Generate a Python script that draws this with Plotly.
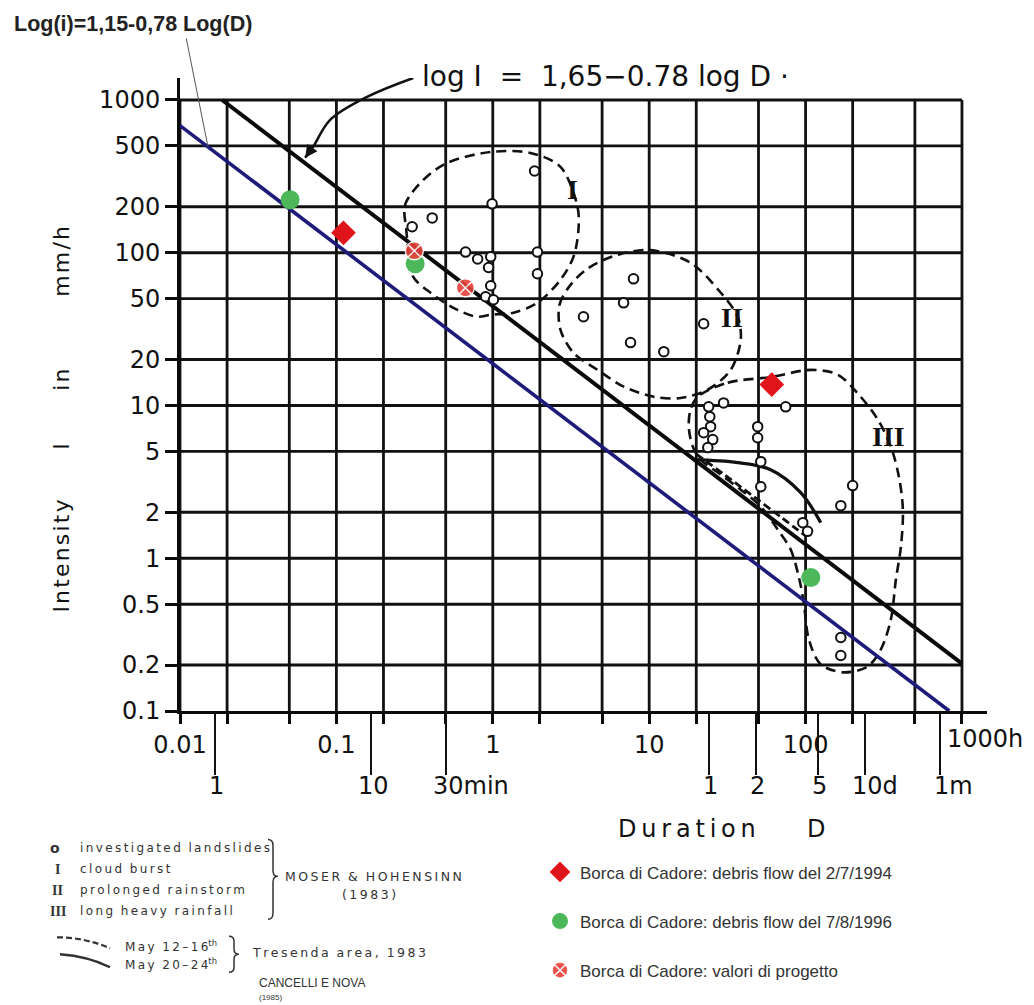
import numpy as np
import plotly.graph_objects as go

# ---------------- data (hours, mm/h) ----------------
x_grid = [0.01, 0.02, 0.05, 0.1, 0.2, 0.5, 1, 2, 5, 10, 20, 50, 100, 200, 500, 1000]
x_tick_text = ['0.01', '', '', '0.1', '', '', '1', '', '', '10', '', '', '100', '', '', '']
y_grid = [0.1, 0.2, 0.5, 1, 2, 5, 10, 20, 50, 100, 200, 500, 1000]
y_tick_text = ['0.1', '0.2', '0.5', '1', '2', '5', '10', '20', '50', '100', '200', '500', '1000']

# secondary duration scale (minutes / days / month) in hours
md_ticks = [1 / 60, 10 / 60, 0.5, 24, 48, 120, 240, 720]
md_labels = ['1', '10', '30min', '1', '2', '5', '10d', '1m']
md_lead = [1, 2, 2, 1, 1, 1, 2, 1]          # digits of the number centred on the tick

# threshold lines
moser_D = [0.0186, 1000]
moser_I = [1000, 0.204]
borca_D = [0.01, 830]
borca_I = [680, 0.1]

# investigated landslides (Moser & Hohensinn)
land_D = [1.85, 0.99, 0.41, 0.305, 0.67, 0.80, 0.97, 0.94, 1.93, 1.93, 0.97, 0.90, 1.01,
          3.80, 7.94, 6.86, 7.60, 12.4, 22.3,
          29.9, 74.6, 24.0, 24.4, 24.7, 22.3, 25.5, 23.7,
          49.4, 49.4, 51.7, 51.7,
          200, 168, 96, 103, 168, 168]
land_I = [343, 209, 169, 148, 101, 91, 94, 80, 101, 72.8, 60.8, 51.5, 49.2,
          38.1, 67.5, 47, 25.8, 22.5, 34.3,
          10.4, 9.8, 9.8, 8.45, 7.27, 6.64, 5.98, 5.30,
          7.27, 6.15, 4.29, 2.94,
          2.99, 2.21, 1.71, 1.50, 0.303, 0.231]

# envelopes
envI_D = [0.275, 0.36, 0.51, 0.97, 1.74, 2.71, 3.48, 3.53, 3.28, 2.71, 1.93, 1.36, 0.97, 0.80,
          0.59, 0.40, 0.31, 0.29, 0.28, 0.275]
envI_I = [206, 300, 387, 457, 450, 365, 200, 141, 94, 66.5, 47, 40.5, 39.3, 38.1,
          42.4, 54.7, 69.5, 100, 140, 206]
envII_D = [2.71, 2.67, 3.14, 4.10, 6.28, 10.2, 18.4, 28.7, 36.8, 38.5, 33.2, 23.7, 15.9, 10.7,
           6.86, 4.68, 3.28, 2.71]
envII_I = [31.3, 45.6, 61.6, 79.6, 96.9, 104, 85.9, 54.7, 38.1, 26.9, 17.1, 12.7, 11.2, 11.4,
           13.3, 17.1, 22.1, 31.3]
envIII_D = [20.4, 31.8, 60.8, 108, 161, 225, 290, 351, 395, 419, 407, 378, 351, 303, 250, 176,
            125, 105, 97.3, 90.4, 80.3, 66.4, 51.7, 38.5, 28.7, 21.3, 19.0, 17.9, 18.4, 20.4]
envIII_I = [11.4, 14.1, 15.4, 17.1, 15.9, 11.4, 8.07, 5.38, 3.42, 2.08, 1.19, 0.726, 0.397,
            0.253, 0.196, 0.179, 0.202, 0.294, 0.513, 0.759, 1.14, 1.54, 2.18, 2.81, 3.53,
            4.42, 5.38, 7.27, 9.39, 11.4]

# Tresenda area 1983 (Cancelli e Nova)
tres1_D = [20, 30, 45, 70, 100]
tres1_I = [4.8, 3.55, 2.6, 1.85, 1.4]
tres2_D = [19.2, 36.8, 59.8, 93.1, 125]
tres2_I = [4.42, 4.23, 3.80, 2.69, 1.71]

# Borca di Cadore events
deb94_D = [0.111, 60.8]
deb94_I = [135, 13.7]
deb96_D = [0.0506, 0.319, 108]
deb96_I = [222, 84.6, 0.748]
prog_D = [0.315, 0.668]
prog_I = [103, 58.9]

# label arrow (curved leader of the Moser formula)
arrow_D = [0.310, 0.157, 0.0912, 0.0710, 0.0631]
arrow_I = [1393, 1047, 740, 493, 418]

# roman numeral labels of the envelopes
roman_text = ['I', 'II', 'III']
roman_D = [3.24, 33.7, 341]
roman_I = [258, 37.5, 6.25]

# ---------------- layout geometry (reference pixels) ----------------
OFF = 8                       # page body margin of the html page
W, H = 1034 - OFF, 1005 - OFF
L, T = 180, 78                # plot-area top-left in the screenshot
PW, PH = 807, 633.5


def px(x):
    return (x - L) / PW


def py(y):
    return (T + PH - y) / PH


FONT = 'DejaVu Sans'
SERIF = 'Liberation Serif'
THIN = '\u2009'
NB = '\u00a0'


def spaced(text, gap=THIN, wordgap=NB * 2):
    return wordgap.join(gap.join(list(w)) for w in text.split(' '))


fig = go.Figure()

# grid
gx, gy = [], []
for v in x_grid:
    gx += [v, v, None]
    gy += [y_grid[0], y_grid[-1], None]
for v in y_grid[1:]:
    gx += [x_grid[0], x_grid[-1], None]
    gy += [v, v, None]
fig.add_trace(go.Scatter(x=gx, y=gy, mode='lines', line=dict(color='#111', width=2.8),
                         hoverinfo='skip', showlegend=False))

dash_style = dict(color='#111', width=2.6, dash='10px,6px', shape='spline', smoothing=0.9)
for ed, ei in [(envI_D, envI_I), (envII_D, envII_I), (envIII_D, envIII_I)]:
    fig.add_trace(go.Scatter(x=ed, y=ei, mode='lines', line=dash_style,
                             hoverinfo='skip', showlegend=False))

fig.add_trace(go.Scatter(x=tres1_D, y=tres1_I, mode='lines',
                         line=dict(color='#111', width=2.8, dash='8px,4px', shape='spline'),
                         hoverinfo='skip', showlegend=False))
fig.add_trace(go.Scatter(x=tres2_D, y=tres2_I, mode='lines',
                         line=dict(color='#111', width=3.2, shape='spline'),
                         hoverinfo='skip', showlegend=False))

# threshold lines
fig.add_trace(go.Scatter(x=moser_D, y=moser_I, mode='lines', line=dict(color='#0a0a0a', width=4),
                         hoverinfo='skip', showlegend=False))
fig.add_trace(go.Scatter(x=borca_D, y=borca_I, mode='lines', line=dict(color='#1e1b7a', width=3.6),
                         hoverinfo='skip', showlegend=False))

# curved leader
fig.add_trace(go.Scatter(x=arrow_D, y=arrow_I, mode='lines',
                         line=dict(color='#111', width=2.5, shape='spline'),
                         hoverinfo='skip', showlegend=False))

# investigated landslides
fig.add_trace(go.Scatter(x=land_D, y=land_I, mode='markers',
                         marker=dict(symbol='circle', size=9.5, color='white',
                                     line=dict(color='#111', width=2)),
                         hoverinfo='skip', showlegend=False))

# Borca di Cadore points
fig.add_trace(go.Scatter(x=deb94_D, y=deb94_I, mode='markers',
                         name='Borca di Cadore: debris flow del 2/7/1994', legendgroup='a',
                         marker=dict(symbol='diamond', size=19, color='#e0141b')))
fig.add_trace(go.Scatter(x=deb96_D, y=deb96_I, mode='markers',
                         name='Borca di Cadore: debris flow del 7/8/1996', legendgroup='b',
                         marker=dict(symbol='circle', size=19, color='#4cb85a')))
fig.add_trace(go.Scatter(x=prog_D, y=prog_I, mode='markers',
                         name='Borca di Cadore: valori di progetto', legendgroup='c',
                         marker=dict(symbol='circle-x', size=18, color='#e8403a',
                                     line=dict(color='white', width=1.4), opacity=0.9)))

# empty trace to carry the secondary duration axis
fig.add_trace(go.Scatter(x=[], y=[], xaxis='x2', yaxis='y', showlegend=False, hoverinfo='skip'))

ann = []
# in-plot roman numerals
for t, d, i in zip(roman_text, roman_D, roman_I):
    ann.append(dict(x=np.log10(d), y=np.log10(i), xref='x', yref='y', text=t, showarrow=False,
                    xanchor='center', yanchor='middle',
                    font=dict(family=SERIF, size=28, color='#111', weight='bold')))

# arrowhead of the curved leader
ann.append(dict(x=np.log10(arrow_D[-1]), y=np.log10(arrow_I[-1]), xref='x', yref='y', text='',
                showarrow=True, arrowhead=2, arrowsize=1, arrowwidth=2.5, arrowcolor='#111',
                ax=7, ay=-10, standoff=0))
# thin leader of the blue-line formula
ann.append(dict(x=np.log10(0.0151), y=np.log10(493), xref='x', yref='y', text='',
                showarrow=True, arrowhead=0, arrowwidth=1, arrowcolor='#555',
                ax=-22, ay=-110, standoff=0))

# formulas
ann.append(dict(x=px(12), y=py(24), xref='paper', yref='paper', xanchor='left', yanchor='middle',
                text='Log(i)=1,15-0,78 Log(D)', showarrow=False,
                font=dict(family='Liberation Sans', size=21.5, color='#222', weight='bold')))
ann.append(dict(x=px(420), y=py(76), xref='paper', yref='paper', xanchor='left', yanchor='middle',
                text='log I  =  1,65\u22120.78 log D \u00b7', showarrow=False,
                font=dict(family=FONT, size=28, color='#111')))

# 1000 h label
ann.append(dict(x=px(945), y=py(740), xref='paper', yref='paper', xanchor='left', yanchor='middle',
                text='1000h', showarrow=False, font=dict(family=FONT, size=24, color='#111')))

# secondary duration labels
for v, t, n in zip(md_ticks, md_labels, md_lead):
    ann.append(dict(x=np.log10(v), y=py(787), xref='x', yref='paper', xanchor='left',
                    yanchor='middle', xshift=-7.6 * n, text=t, showarrow=False,
                    font=dict(family=FONT, size=24, color='#111')))

# axis titles
for word, yc in [('Intensity', 557), ('I', 447), ('in', 380), ('mm/h', 262)]:
    ann.append(dict(x=px(62), y=py(yc), xref='paper', yref='paper', text='\u200a'.join(word),
                    xanchor='center', yanchor='middle', textangle=-90, showarrow=False,
                    font=dict(family=FONT, size=22, color='#111')))
ann.append(dict(x=px(686.5), y=py(830), xref='paper', yref='paper', text=THIN.join('Duration'),
                xanchor='center', yanchor='middle', showarrow=False,
                font=dict(family=FONT, size=24, color='#111')))
ann.append(dict(x=px(816), y=py(830), xref='paper', yref='paper', text='D',
                xanchor='center', yanchor='middle', showarrow=False,
                font=dict(family=FONT, size=24, color='#111')))

# bottom-left legend (text block)
small = dict(family=FONT, size=12, color='#333')
rows = [('o', 55, 849, 'investigated landslides', FONT),
        ('I', 57, 870, 'cloud burst', SERIF),
        ('II', 57, 891, 'prolonged rainstorm', SERIF),
        ('III', 58, 912, 'long heavy rainfall', SERIF)]
for sym, sx, yy, txt, fam in rows:
    ann.append(dict(x=px(sx), y=py(yy), xref='paper', yref='paper', text=sym, showarrow=False,
                    xanchor='center', yanchor='middle',
                    font=dict(family=fam, size=14, color='#333', weight='bold')))
    ann.append(dict(x=px(78), y=py(yy), xref='paper', yref='paper', xanchor='left',
                    yanchor='middle', text=spaced(txt), showarrow=False, font=small))
ann.append(dict(x=px(283), y=py(877), xref='paper', yref='paper', xanchor='left', yanchor='middle',
                text=spaced('MOSER & HOHENSINN'), showarrow=False,
                font=dict(family=FONT, size=12.5, color='#333')))
ann.append(dict(x=px(340), y=py(895), xref='paper', yref='paper', xanchor='left', yanchor='middle',
                text=spaced('(1983)'), showarrow=False, font=dict(family=FONT, size=12.5, color='#333')))
ann.append(dict(x=px(123), y=py(947), xref='paper', yref='paper', xanchor='left', yanchor='middle',
                text=spaced('May 12–16') + '<sup>th</sup>', showarrow=False, font=small))
ann.append(dict(x=px(123), y=py(965), xref='paper', yref='paper', xanchor='left', yanchor='middle',
                text=spaced('May 20–24') + '<sup>th</sup>', showarrow=False, font=small))
ann.append(dict(x=px(250), y=py(953), xref='paper', yref='paper', xanchor='left', yanchor='middle',
                text=spaced('Tresenda area, 1983'), showarrow=False,
                font=dict(family=FONT, size=12.5, color='#333')))
ann.append(dict(x=px(257), y=py(984), xref='paper', yref='paper', xanchor='left', yanchor='middle',
                text='CANCELLI E NOVA', showarrow=False,
                font=dict(family='Liberation Sans', size=12, color='#333')))
ann.append(dict(x=px(257), y=py(998), xref='paper', yref='paper', xanchor='left', yanchor='middle',
                text='(1985)', showarrow=False,
                font=dict(family='Liberation Sans', size=8, color='#333')))


def brace(x, yt, yb, ym, w, r):
    pts = [('M', [(x, yt)]), ('Q', [(x + w / 2, yt), (x + w / 2, yt + r)]), ('L', [(x + w / 2, ym - r)]),
           ('Q', [(x + w / 2, ym), (x + w, ym)]), ('Q', [(x + w / 2, ym), (x + w / 2, ym + r)]),
           ('L', [(x + w / 2, yb - r)]), ('Q', [(x + w / 2, yb), (x, yb)])]
    return ' '.join(c + ' ' + ' '.join(f'{px(a):.5f},{py(b):.5f}' for a, b in p) for c, p in pts)


def curve(p0, p1, p2):
    return (f'M {px(p0[0]):.5f},{py(p0[1]):.5f} Q {px(p1[0]):.5f},{py(p1[1]):.5f} '
            f'{px(p2[0]):.5f},{py(p2[1]):.5f}')


shapes = [
    dict(type='path', xref='paper', yref='paper', path=brace(268, 840, 920, 877, 10, 6),
         line=dict(color='#333', width=1.5)),
    dict(type='path', xref='paper', yref='paper', path=brace(229, 937, 973, 955, 10, 5),
         line=dict(color='#333', width=1.5)),
    dict(type='path', xref='paper', yref='paper', path=curve((57, 938), (85, 938), (110, 949)),
         line=dict(color='#333', width=2.2, dash='6px,3px')),
    dict(type='path', xref='paper', yref='paper', path=curve((60, 955), (88, 957), (110, 968)),
         line=dict(color='#333', width=2.4)),
]

x_range = [-2, np.log10(1000) + (PW - 782) / 156.2]
axis_font = dict(family=FONT, size=24, color='#111')
fig.update_layout(
    width=W, height=H,
    margin=dict(l=L - OFF, r=W - (L - OFF) - PW, t=T - OFF, b=H - (T - OFF) - PH, pad=0),
    paper_bgcolor='white', plot_bgcolor='white',
    xaxis=dict(type='log', range=x_range, showgrid=False,
               zeroline=False, showline=True, linecolor='#0a0a0a', linewidth=3,
               ticks='outside', ticklen=10, tickwidth=2.5, tickcolor='#0a0a0a',
               tickvals=x_grid, ticktext=x_tick_text, tickfont=axis_font),
    xaxis2=dict(type='log', overlaying='x', anchor='y', side='bottom',
                range=x_range, showgrid=False, zeroline=False,
                showline=False, ticks='outside', ticklen=63, tickwidth=2, tickcolor='#111',
                tickvals=md_ticks, showticklabels=False),
    yaxis=dict(type='log', range=[-1, 3 + 22 / 152.9], showgrid=False, zeroline=False,
               showline=True, linecolor='#0a0a0a', linewidth=3,
               ticks='outside', ticklen=12, tickwidth=2.5, tickcolor='#0a0a0a',
               tickvals=y_grid, ticktext=y_tick_text, tickfont=axis_font),
    showlegend=True,
    legend=dict(x=px(540), y=py(855), xanchor='left', yanchor='top', tracegroupgap=24,
                font=dict(family='Liberation Sans', size=17, color='#333'),
                bgcolor='rgba(0,0,0,0)', itemsizing='trace'),
    annotations=ann,
    shapes=shapes,
)

fig.write_html("out.html")
